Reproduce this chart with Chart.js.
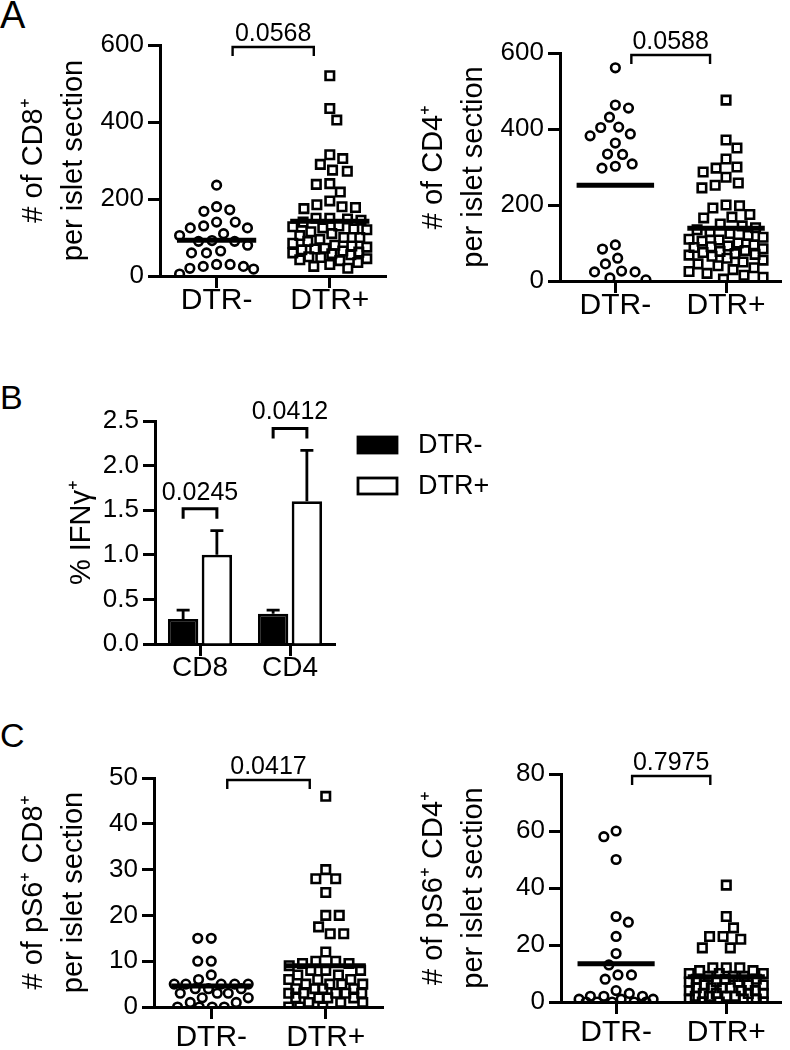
<!DOCTYPE html>
<html>
<head>
<meta charset="utf-8">
<title>DTR- vs DTR+ islet infiltrates</title>
<script src="https://cdn.jsdelivr.net/npm/chart.js@4.4.1/dist/chart.umd.min.js"></script>
<style>
  body { margin: 0; background: #fff; width: 790px; height: 1050px; position: relative; overflow: hidden;
         font-family: "Liberation Sans", Arial, Helvetica, sans-serif; color: #000; }
  canvas { position: absolute; }
  .lbl { position: absolute; line-height: 1; }
</style>
</head>
<body>
<div class="lbl" style="left:0;top:-4px;font-size:38px">A</div>
<div class="lbl" style="left:0;top:380px;font-size:34px">B</div>
<div class="lbl" style="left:0;top:718px;font-size:34px">C</div>

<canvas id="a1" width="395" height="320" style="left:0;top:0"></canvas>
<canvas id="a2" width="390" height="320" style="left:400px;top:0"></canvas>
<canvas id="b" width="500" height="350" style="left:0;top:330px"></canvas>
<canvas id="c1" width="395" height="360" style="left:0;top:690px"></canvas>
<canvas id="c2" width="390" height="360" style="left:400px;top:690px"></canvas>

<script>
// ---- data ----
const groups = ['DTR-', 'DTR+'];

// A: cells per islet section
const cd8Minus = [236, 180, 172, 168, 140, 140, 130, 125, 125, 110, 105, 92, 90, 90, 80, 65, 60, 60, 30, 30, 25, 25, 20, 18, 5];
const cd8Plus = [520, 435, 405, 315, 305, 290, 275, 272, 240, 238, 218, 195, 185, 180, 178, 175,
  150, 150, 148, 145, 140, 130, 128, 125, 122, 120, 115, 110, 105, 100, 100,
  95, 90, 85, 80, 78, 75, 72, 70, 68, 65, 62, 60, 58, 55, 50, 48, 45, 42, 40, 35, 30, 25, 20];
const cd4Minus = [561, 463, 455, 431, 405, 404, 387, 382, 363, 334, 333, 308, 302, 297, 95, 84, 60, 45, 26, 24, 24, 8, 3];
const cd4Plus = [476, 371, 350, 321, 300, 297, 287, 273, 258, 252, 245, 200, 198, 192, 175, 168, 166,
  150, 145, 140, 135, 130, 125, 120, 115, 110, 108, 105, 100, 95, 92, 90, 88, 85, 80, 78, 75, 72, 70,
  68, 65, 60, 55, 50, 45, 40, 35, 30, 25, 20, 15, 10, 5];
const pA = ['0.0568', '0.0588'];

// B: % IFNg+ (mean and SEM)
const bCats = ['CD8', 'CD4'];
const ifngMinus = [0.28, 0.34];
const ifngMinusSem = [0.10, 0.04];
const ifngPlus = [1.0, 1.6];
const ifngPlusSem = [0.27, 0.57];
const pB = ['0.0245', '0.0412'];

// C: pS6+ cells per islet section
const ps6Cd8Minus = [15, 15, 10, 10, 7, 6, 5, 5, 5, 5, 5, 4, 4, 4, 3, 3, 3, 2, 2, 1, 1, 0, 0, 0, 0];
const ps6Cd8Plus = [46, 30, 28, 28, 25, 20, 20, 17.5, 16, 16, 12, 10, 10, 9.5, 9.5, 9, 8, 8, 8, 7, 7,
  6, 6, 6, 5, 5, 5, 5, 4, 4, 4, 4, 3, 3, 3, 3, 3, 2, 2, 2, 2, 1, 1, 1, 0, 0, 0];
const ps6Cd4Minus = [60, 58, 50, 30, 28, 23, 17, 13, 9.5, 9.5, 8, 4, 3, 2, 2, 2, 1, 1, 1, 0, 0, 0, 0, 0];
const ps6Cd4Plus = [41, 30, 26, 23, 23, 22, 19, 19, 12, 12, 12, 11, 11, 10, 10, 10, 9, 9, 9, 8, 8, 8,
  7, 7, 7, 6, 6, 6, 5, 5, 5, 5, 4, 4, 4, 3, 3, 3, 3, 2, 2, 2, 2, 1, 1, 1, 0, 0, 0];
const pC = ['0.0417', '0.7975'];

// ---- styling ----
const FONT = '"Liberation Sans", Arial, Helvetica, sans-serif';
Chart.defaults.font.family = FONT;
Chart.defaults.color = '#000';
Chart.defaults.animation = false;

const DOT = 13.5, HALF = 37; // marker spacing and max half-width of a swarm, px

function gridStyle() {
  return { display: true, drawOnChartArea: false, drawTicks: true, tickLength: 12, tickWidth: 3, tickColor: '#000' };
}
function borderStyle() {
  return { display: true, color: '#000', width: 3 };
}
function mean(a) {
  return a.reduce((s, v) => s + v, 0) / a.length;
}

// significance bracket over the two groups (scatter panels)
function topBracket(text) {
  return {
    id: 'topBracket',
    afterDraw(chart) {
      const { ctx, chartArea, scales } = chart;
      const x1 = scales.x.getPixelForValue(0) + 16;
      const x2 = scales.x.getPixelForValue(1) - 16;
      const y = chartArea.top + 2;
      ctx.save();
      ctx.strokeStyle = '#000';
      ctx.lineWidth = 2.4;
      ctx.beginPath();
      ctx.moveTo(x1, y + 9); ctx.lineTo(x1, y); ctx.lineTo(x2, y); ctx.lineTo(x2, y + 9);
      ctx.stroke();
      ctx.fillStyle = '#000';
      ctx.font = '25px ' + FONT;
      ctx.textAlign = 'center';
      ctx.textBaseline = 'alphabetic';
      ctx.fillText(text, (x1 + x2) / 2, y - 6);
      ctx.restore();
    }
  };
}

// beeswarm: push each point sideways to the nearest free spot, squeeze when too crowded
function swarmOffsets(vals, chart) {
  const ys = chart.scales.y, xs = chart.scales.x;
  const pxPerUnit = xs.getPixelForValue(1) - xs.getPixelForValue(0);
  const order = vals.map((v, i) => ({ i, py: ys.getPixelForValue(v) })).sort((a, b) => a.py - b.py);
  const placed = [];
  const off = new Array(vals.length).fill(0);
  let flip = 1;
  order.forEach(p => {
    const near = placed.filter(q => Math.abs(q.py - p.py) < DOT);
    const clash = x => near.some(q => (x - q.x) ** 2 + (q.py - p.py) ** 2 < DOT * DOT - 0.01);
    let cands = [0];
    near.forEach(q => {
      const w = Math.sqrt(DOT * DOT - (q.py - p.py) ** 2);
      cands.push(q.x + w, q.x - w);
    });
    cands = cands.filter(x => Math.abs(x) <= HALF && !clash(x));
    let x;
    if (cands.length) {
      cands.sort((a, b) => Math.abs(a) - Math.abs(b) || (b - a) * flip);
      x = cands[0];
      flip = -flip;
    } else {
      let best = -1;
      for (let c = -HALF; c <= HALF; c += 1) {
        const d = Math.min(...near.map(q => (c - q.x) ** 2 + (q.py - p.py) ** 2));
        if (d > best) { best = d; x = c; }
      }
    }
    placed.push({ x, py: p.py });
    off[p.i] = x / pxPerUnit;
  });
  return off;
}

function scatterPanel(id, box, area, yMax, yStep, title, minusVals, plusVals, pText, xPad) {
  const yW = area.l - box.left;
  const xH = box.top + box.h - area.b;
  const meanLine = (vals, i) => ({
    type: 'line', showLine: true,
    data: [{ x: i - 0.35, y: mean(vals) }, { x: i + 0.35, y: mean(vals) }],
    borderColor: '#000', borderWidth: 5, borderCapStyle: 'butt', pointRadius: 0, order: 0
  });
  const chart = new Chart(document.getElementById(id), {
    type: 'scatter',
    data: {
      datasets: [
        meanLine(minusVals, 0),
        meanLine(plusVals, 1),
        { label: groups[0], data: minusVals.map(v => ({ x: 0, y: v })), pointStyle: 'circle', pointRadius: 4.3,
          borderWidth: 2.6, borderColor: '#000', backgroundColor: 'rgba(0,0,0,0)', order: 1 },
        { label: groups[1], data: plusVals.map(v => ({ x: 1, y: v })), pointStyle: 'rect', pointRadius: 6,
          borderWidth: 2.6, borderColor: '#000', backgroundColor: 'rgba(0,0,0,0)', order: 1 }
      ]
    },
    options: {
      responsive: false,
      animation: false,
      events: [],
      layout: { padding: { left: 0, top: area.t - box.top, right: box.left + box.w - area.r, bottom: 0 } },
      plugins: { legend: { display: false }, tooltip: { enabled: false } },
      scales: {
        x: {
          type: 'linear', min: -0.5, max: 1.5,
          afterBuildTicks: s => { s.ticks = [{ value: 0 }, { value: 1 }]; },
          afterFit: s => { s.height = xH; },
          ticks: { callback: v => groups[v], font: { size: 30, lineHeight: 1 }, padding: xPad, maxRotation: 0, autoSkip: false },
          grid: gridStyle(), border: borderStyle()
        },
        y: {
          min: 0, max: yMax,
          afterFit: s => { s.width = yW; },
          ticks: { stepSize: yStep, font: { size: 26 }, padding: 4 },
          title: { display: true, text: title, font: { size: 29, lineHeight: 1.38 }, padding: { top: 14, bottom: 0 } },
          grid: gridStyle(), border: borderStyle()
        }
      }
    },
    plugins: [topBracket(pText)]
  });
  [minusVals, plusVals].forEach((vals, g) => {
    const off = swarmOffsets(vals, chart);
    chart.data.datasets[2 + g].data.forEach((p, i) => { p.x = g + off[i]; });
  });
  chart.update('none');
  return chart;
}

scatterPanel('a1', { left: 0, top: 0, w: 395, h: 320 }, { l: 160, t: 45, r: 390, b: 276 },
  600, 200, ['# of CD8\u207A', 'per islet section'], cd8Minus, cd8Plus, pA[0], -2);
scatterPanel('a2', { left: 400, top: 0, w: 390, h: 320 }, { l: 560, t: 53, r: 788, b: 281 },
  600, 200, ['# of CD4\u207A', 'per islet section'], cd4Minus, cd4Plus, pA[1], -2);
scatterPanel('c1', { left: 0, top: 690, w: 395, h: 360 }, { l: 154, t: 778, r: 383, b: 1007 },
  50, 10, ['# of pS6\u207A CD8\u207A', 'per islet section'], ps6Cd8Minus, ps6Cd8Plus, pC[0], 4);
scatterPanel('c2', { left: 400, top: 690, w: 390, h: 360 }, { l: 561, t: 774, r: 788, b: 1002 },
  80, 20, ['# of pS6\u207A CD4\u207A', 'per islet section'], ps6Cd4Minus, ps6Cd4Plus, pC[1], 4);

// ---- panel B: bars with SEM ----
const sems = [ifngMinusSem, ifngPlusSem];

const errorBars = {
  id: 'errorBars',
  afterDatasetsDraw(chart) {
    const { ctx, scales } = chart;
    ctx.save();
    ctx.strokeStyle = '#000';
    ctx.lineWidth = 2.8;
    chart.data.datasets.forEach((ds, d) => {
      chart.getDatasetMeta(d).data.forEach((bar, j) => {
        const top = scales.y.getPixelForValue(ds.data[j] + sems[d][j]);
        ctx.beginPath();
        ctx.moveTo(bar.x, bar.y); ctx.lineTo(bar.x, top);
        ctx.moveTo(bar.x - 6.5, top); ctx.lineTo(bar.x + 6.5, top);
        ctx.stroke();
      });
    });
    ctx.restore();
  }
};

const pairBrackets = {
  id: 'pairBrackets',
  afterDraw(chart) {
    const { ctx, scales } = chart;
    const m0 = chart.getDatasetMeta(0), m1 = chart.getDatasetMeta(1);
    ctx.save();
    ctx.strokeStyle = '#000';
    ctx.fillStyle = '#000';
    ctx.lineWidth = 3;
    ctx.font = '25px ' + FONT;
    ctx.textAlign = 'center';
    ctx.textBaseline = 'alphabetic';
    bCats.forEach((c, j) => {
      const x1 = m0.data[j].x, x2 = m1.data[j].x;
      const top = Math.min(scales.y.getPixelForValue(ifngMinus[j] + ifngMinusSem[j]),
                           scales.y.getPixelForValue(ifngPlus[j] + ifngPlusSem[j]));
      const y = top - 22;
      ctx.beginPath();
      ctx.moveTo(x1, y + 10); ctx.lineTo(x1, y); ctx.lineTo(x2, y); ctx.lineTo(x2, y + 10);
      ctx.stroke();
      ctx.fillText(pB[j], (x1 + x2) / 2, y - 9);
    });
    ctx.restore();
  }
};

const sideLegend = {
  id: 'sideLegend',
  afterDraw(chart) {
    const { ctx, chartArea } = chart;
    const x = chartArea.right + 23;
    ctx.save();
    ctx.font = '27px ' + FONT;
    ctx.textBaseline = 'middle';
    ctx.textAlign = 'left';
    chart.data.datasets.forEach((ds, i) => {
      const cy = chartArea.top + 24 + i * 41;
      ctx.fillStyle = ds.backgroundColor;
      ctx.fillRect(x, cy - 8, 39, 16);
      ctx.strokeStyle = '#000';
      ctx.lineWidth = 2.8;
      ctx.strokeRect(x, cy - 8, 39, 16);
      ctx.fillStyle = '#000';
      ctx.fillText(ds.label, x + 60, cy + 1);
    });
    ctx.restore();
  }
};

new Chart(document.getElementById('b'), {
  type: 'bar',
  data: {
    labels: bCats,
    datasets: [
      { label: groups[0], data: ifngMinus, backgroundColor: '#000', borderColor: '#000', borderWidth: 2.8 },
      { label: groups[1], data: ifngPlus, backgroundColor: '#fff', borderColor: '#000', borderWidth: 2.8 }
    ]
  },
  options: {
    responsive: false,
    animation: false,
    events: [],
    categoryPercentage: 0.75,
    barPercentage: 0.9,
    layout: { padding: { left: 0, top: 91, right: 165, bottom: 0 } },
    plugins: { legend: { display: false }, tooltip: { enabled: false } },
    scales: {
      x: {
        offset: true,
        afterFit: s => { s.height = 350 - 314; },
        ticks: { font: { size: 28, lineHeight: 1 }, padding: -2 },
        grid: Object.assign(gridStyle(), { offset: false }),
        border: borderStyle()
      },
      y: {
        min: 0, max: 2.5,
        afterFit: s => { s.width = 155; },
        ticks: { stepSize: 0.5, font: { size: 26 }, padding: 4, callback: v => v.toFixed(1) },
        title: { display: true, text: '% IFN\u03B3\u207A', font: { size: 29, lineHeight: 1.38 }, padding: { top: 62, bottom: 0 } },
        grid: gridStyle(), border: borderStyle()
      }
    }
  },
  plugins: [errorBars, pairBrackets, sideLegend]
});
</script>
</body>
</html>
